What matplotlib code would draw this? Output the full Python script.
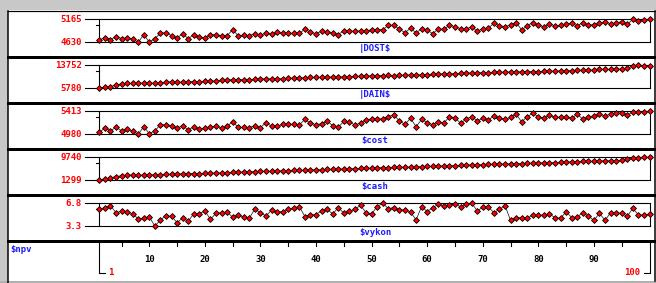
import matplotlib
matplotlib.use("Agg")
import matplotlib.pyplot as plt
from matplotlib.patches import Rectangle

idx = list(range(1, 101))

dost = [4684, 4737, 4694, 4764, 4716, 4737, 4700, 4630, 4807, 4635,
        4716, 4839, 4855, 4785, 4732, 4833, 4716, 4807, 4748, 4737,
        4807, 4807, 4785, 4785, 4924, 4780, 4801, 4785, 4833, 4791,
        4855, 4817, 4860, 4839, 4839, 4839, 4839, 4935, 4860, 4833,
        4887, 4876, 4855, 4807, 4903, 4892, 4887, 4892, 4903, 4919,
        4924, 4924, 5026, 5026, 4935, 4855, 4956, 4849, 4946, 4908,
        4833, 4940, 4935, 5026, 4994, 4946, 4935, 4994, 4887, 4946,
        4956, 5074, 5015, 4994, 5031, 5090, 4919, 5015, 5090, 5026,
        4994, 5063, 5010, 5031, 5047, 5074, 5010, 5090, 5026, 5042,
        5074, 5112, 5058, 5090, 5101, 5047, 5165, 5133, 5154, 5165]

dain = [5780, 6258, 6338, 6976, 7295, 7454, 7454, 7534, 7534, 7534,
        7614, 7773, 7853, 8092, 7853, 7932, 8092, 8092, 8092, 8172,
        8251, 8331, 8490, 8570, 8809, 8809, 8809, 8809, 8889, 9049,
        9049, 9049, 9049, 9128, 9208, 9288, 9367, 9447, 9527, 9527,
        9607, 9686, 9686, 9766, 9766, 9846, 9925, 9925, 10005, 10085,
        10165, 10165, 10244, 10165, 10244, 10324, 10404, 10404, 10483, 10563,
        10643, 10723, 10802, 10802, 10882, 10962, 11042, 11121, 11121, 11201,
        11201, 11281, 11281, 11360, 11440, 11440, 11520, 11520, 11600, 11600,
        11679, 11679, 11759, 11759, 11839, 11918, 11998, 12078, 12078, 12158,
        12317, 12317, 12317, 12397, 12397, 12716, 13513, 13752, 13672, 13672]

cost = [5023, 5093, 5049, 5110, 5049, 5080, 5041, 4980, 5123, 4993,
        5049, 5158, 5162, 5145, 5093, 5145, 5062, 5123, 5080, 5093,
        5119, 5136, 5101, 5132, 5218, 5110, 5110, 5106, 5145, 5106,
        5201, 5132, 5136, 5166, 5166, 5166, 5158, 5261, 5188, 5162,
        5179, 5227, 5145, 5110, 5227, 5205, 5158, 5188, 5248, 5274,
        5270, 5270, 5313, 5344, 5231, 5166, 5283, 5123, 5261, 5201,
        5158, 5218, 5188, 5313, 5292, 5188, 5266, 5313, 5231, 5283,
        5248, 5326, 5283, 5261, 5300, 5357, 5214, 5313, 5374, 5313,
        5283, 5339, 5300, 5300, 5313, 5283, 5361, 5261, 5300, 5326,
        5361, 5326, 5361, 5374, 5387, 5339, 5400, 5409, 5409, 5413]

cash = [1299, 1805, 2228, 2650, 2987, 3156, 3240, 3156, 3156, 3240,
        3409, 3409, 3494, 3494, 3494, 3747, 3747, 3747, 3747, 3831,
        3831, 4000, 4000, 4085, 4169, 4253, 4338, 4338, 4507, 4591,
        4591, 4591, 4760, 4760, 4844, 4929, 4929, 5013, 5097, 5182,
        5182, 5266, 5351, 5435, 5435, 5520, 5604, 5688, 5688, 5773,
        5857, 5942, 5942, 6026, 6026, 6110, 6195, 6195, 6279, 6364,
        6448, 6532, 6532, 6617, 6701, 6786, 6870, 6954, 6954, 7039,
        7123, 7208, 7208, 7292, 7377, 7377, 7461, 7545, 7545, 7630,
        7714, 7714, 7799, 7883, 7967, 8052, 8136, 8221, 8221, 8305,
        8389, 8474, 8474, 8558, 8643, 8980, 9487, 9656, 9740, 9740]

vykon = [5.89, 6.14, 6.45, 5.37, 5.58, 5.44, 5.23, 4.42, 4.53, 4.77,
         3.30, 4.28, 4.91, 4.81, 3.86, 4.56, 4.07, 5.23, 5.23, 5.65,
         4.35, 5.30, 5.37, 5.47, 4.67, 5.09, 4.67, 4.56, 5.93, 5.30,
         4.91, 5.75, 5.44, 5.54, 5.93, 6.10, 6.31, 4.77, 5.09, 5.09,
         5.68, 5.89, 5.19, 6.14, 5.30, 5.58, 5.89, 6.49, 5.37, 5.19,
         6.31, 6.80, 6.00, 6.14, 5.79, 5.79, 5.47, 4.28, 6.31, 5.54,
         6.14, 6.63, 6.38, 6.59, 6.70, 6.28, 6.70, 6.80, 5.68, 6.17,
         6.28, 5.37, 5.89, 6.45, 4.21, 4.60, 4.63, 4.53, 5.02, 4.95,
         5.02, 5.19, 4.60, 4.53, 5.51, 4.63, 4.74, 5.37, 4.84, 4.21,
         5.26, 4.21, 5.37, 5.37, 5.26, 4.84, 6.03, 5.02, 5.02, 5.16]

names = ["|DOST$", "|DAIN$", "$cost", "$cash", "$vykon"]
hi_labels = ["5165", "13752", "5413", "9740", "6.8"]
lo_labels = ["4630", "5780", "4980", "1299", "3.3"]
major_ticks = [10, 20, 30, 40, 50, 60, 70, 80, 90]
minor_ticks = [5, 15, 25, 35, 45, 55, 65, 75, 85, 95]
x_name = "$npv"
first_label, last_label = "1", "100"

series = [dost, dain, cost, cash, vykon]

W, H = 656, 283
fig = plt.figure(figsize=(W / 100, H / 100), dpi=100)
ov = fig.add_axes([0, 0, 1, 1])
ov.set_xlim(0, W)
ov.set_ylim(H, 0)
ov.axis("off")

PX = 0.72  # one pixel in points
gray = "#c8c8c8"
FONT = dict(family="DejaVu Sans Mono", weight="bold", fontsize=6.5)

# outer frame
ov.add_patch(Rectangle((0, 0), W, 10.3, color=gray, lw=0, zorder=0))
ov.add_patch(Rectangle((0, 0), 7.5, H, color=gray, lw=0, zorder=0))
ov.plot([0, W], [281.5, 281.5], color="#b0b0b0", lw=2 * PX, zorder=1)
ov.plot([8, 654.5], [10.8, 10.8], color="black", lw=1.2 * PX, zorder=2)
ov.plot([8.3, 8.3], [10.8, 283], color="black", lw=1.5 * PX, zorder=2)
ov.plot([654.5, 654.5], [10.8, 281], color="black", lw=1.5 * PX, zorder=2)

X0, X1 = 99.3, 649.5
period = 46.0
for k in range(5):
    ov.plot([8, 654.5], [56.7 + period * k] * 2, color="black", lw=3 * PX, zorder=2)

for i, (vals, name, hl, ll) in enumerate(zip(series, names, hi_labels, lo_labels)):
    top = 19.3 + period * i
    bot = 42.3 + period * i
    # panel frame
    ov.plot([85, X1], [top, top], color="black", lw=1.1 * PX, zorder=2)
    ov.plot([85, X1], [bot, bot], color="black", lw=1.1 * PX, zorder=2)
    ov.plot([X1, X1], [top, bot], color="black", lw=1.1 * PX, zorder=2)
    ov.plot([X0, X0], [top, bot], color="black", lw=1.1 * PX, zorder=2)
    ov.plot([96, X0], [top + 6, top + 6], color="black", lw=1.1 * PX, zorder=2)
    ov.text(82, top, hl, ha="right", va="center", color="#ff0000", **FONT)
    ov.text(82, bot, ll, ha="right", va="center", color="#ff0000", **FONT)
    ov.text(375, 48.7 + period * i, name, ha="center", va="center",
            color="#1c1cff", **FONT)

    ax = fig.add_axes([X0 / W, 1 - bot / H, (X1 - X0) / W, (bot - top) / H])
    ax.set_xlim(1, 100)
    ax.set_ylim(float(ll), float(hl))
    ax.axis("off")
    ax.patch.set_alpha(0)
    ax.plot(idx, vals, color="#202020", lw=0.55, zorder=3, clip_on=False)
    ax.plot(idx, vals, ls="none", marker="D", ms=3.0, mfc="#ff0000",
            mec="black", mew=0.6, zorder=4, clip_on=False)

# bottom axis
axb = fig.add_axes([X0 / W, 1 - 272.5 / H, (X1 - X0) / W, (272.5 - 241.5) / H])
axb.set_xlim(1, 100)
axb.set_ylim(0, 1)
axb.axis("off")
axb.patch.set_alpha(0)
tick_len = 4 / 31.0
for t in major_ticks + minor_ticks:
    axb.plot([t, t], [1, 1 - tick_len], color="black", lw=1.1 * PX, clip_on=False)
for t in major_ticks:
    axb.text(t, 1 - 18.5 / 31.0, str(t), ha="center", va="center",
             color="black", **FONT)
axb.plot([1, 1, 2], [1, 0, 0], color="black", lw=1.1 * PX, clip_on=False)
axb.plot([99, 100, 100], [0, 0, 1], color="black", lw=1.1 * PX, clip_on=False)
axb.text(2.6, 0, first_label, ha="left", va="center", color="#ff0000", **FONT)
axb.text(98.4, 0, last_label, ha="right", va="center", color="#ff0000", **FONT)

ov.text(10, 249, x_name, ha="left", va="center", color="#1c1cff", **FONT)

fig.savefig("out.png", dpi=100)
